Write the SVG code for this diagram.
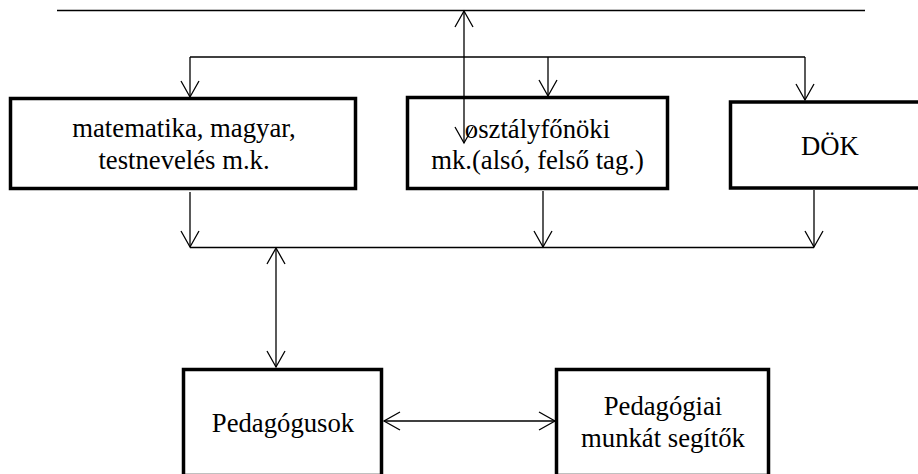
<svg xmlns="http://www.w3.org/2000/svg" width="918" height="474" viewBox="0 0 918 474">
<style>
.box{fill:#fff;stroke:#000;stroke-width:3.5}
.ln{fill:none;stroke:#000;stroke-width:1.3}
.ar{fill:none;stroke:#000;stroke-width:1.3;marker-end:url(#ah)}
.da{fill:none;stroke:#000;stroke-width:1.3;marker-start:url(#ah);marker-end:url(#ah)}
text{font-size:26.7px;fill:#000;text-anchor:middle}
</style>
<defs>
<marker id="ah" markerUnits="userSpaceOnUse" markerWidth="40" markerHeight="40" viewBox="-20 -20 40 40" refX="0" refY="0" orient="auto-start-reverse">
<path d="M-16,-9 L0,0 L-16,9" fill="none" stroke="#000" stroke-width="1.3"/>
</marker>
</defs>
<g font-family="Liberation Serif, Times New Roman, serif">
<g id="n1"><rect class="box" x="10.5" y="98.5" width="345" height="90"/><text x="184" y="137">matematika, magyar,</text><text x="184" y="169">testnevelés m.k.</text></g>
<g id="n2"><rect class="box" x="407.5" y="97.5" width="260" height="91"/><text x="537.5" y="138">osztályfőnöki</text><text x="537.5" y="169">mk.(alsó, felső tag.)</text></g>
<g id="n3"><rect class="box" x="730.5" y="102" width="200" height="86"/><text x="830" y="155">DÖK</text></g>
<g id="n4"><rect class="box" x="183.5" y="369.5" width="198" height="106"/><text x="283" y="432">Pedagógusok</text></g>
<g id="n5"><rect class="box" x="556.5" y="369.5" width="212" height="106"/><text x="663" y="415">Pedagógiai</text><text x="663" y="447">munkát segítők</text></g>
</g>
<g id="connectors">
<line class="ln" x1="57" y1="10.5" x2="865" y2="10.5"/>
<line class="da" x1="464" y1="11" x2="464" y2="143"/>
<line class="ln" x1="190" y1="57" x2="805" y2="57"/>
<line class="ar" x1="190" y1="57" x2="190" y2="97"/>
<line class="ar" x1="548" y1="57" x2="548" y2="96"/>
<line class="ar" x1="805" y1="57" x2="805" y2="100"/>
<line class="ar" x1="190" y1="192" x2="190" y2="247"/>
<line class="ar" x1="543" y1="191" x2="543" y2="247"/>
<line class="ar" x1="814" y1="190" x2="814" y2="247"/>
<line class="ln" x1="190" y1="247.5" x2="814" y2="247.5"/>
<line class="da" x1="276" y1="248" x2="276" y2="367"/>
<line class="da" x1="384" y1="421" x2="555" y2="421"/>
</g>
</svg>
